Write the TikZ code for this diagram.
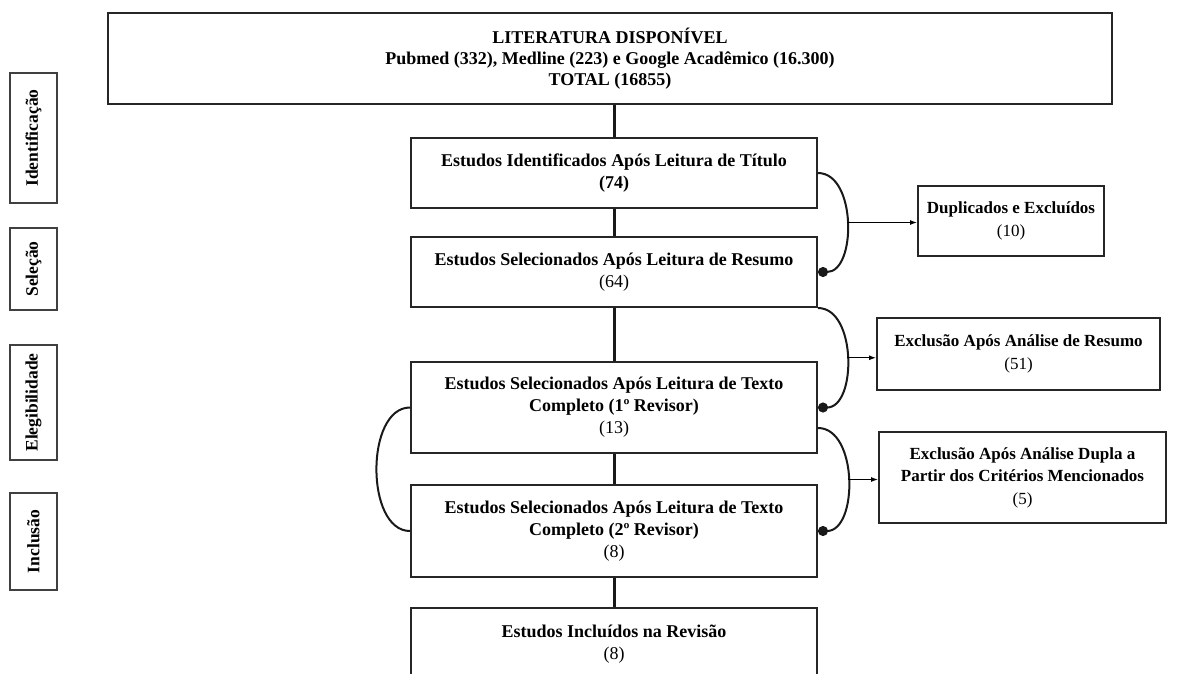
\documentclass[tikz,border=0pt]{standalone}
\usepackage{fontspec}
\setmainfont{Liberation Serif}
\usetikzlibrary{arrows.meta,calc}
\begin{document}
\begin{tikzpicture}[x=1pt,y=-1pt,
  box/.style={draw=black!85, line width=2pt, fill=white, inner sep=0pt, align=center,
    font=\bfseries\fontsize{18}{22}\selectfont},
  rbox/.style={box, font=\bfseries\fontsize{17}{22.5}\selectfont},
  sidebox/.style={draw=black!75, line width=1.3pt, inner sep=0pt, rotate=90,
    font=\bfseries\fontsize{17.5}{20}\selectfont},
  link/.style={line width=3pt, black!90},
  curve/.style={line width=2pt, black!90},
  dotend/.style={-{Circle[length=10pt,width=10pt]}},
  thinarrow/.style={line width=1pt, -{Latex[length=7pt,width=5pt]}}
]
\useasboundingbox (0,0) rectangle (1187,673);
\clip (0,0) rectangle (1187,673);

% side labels
\node[sidebox, minimum width=130pt, minimum height=47pt] (s1) at (33.5,138) {Identificação};
\node[sidebox, minimum width=82pt, minimum height=47pt] (s2) at (33.5,269) {Seleção};
\node[sidebox, minimum width=115pt, minimum height=47pt] (s3) at (33.5,402.5) {Elegibilidade};
\node[sidebox, minimum width=97pt, minimum height=47pt] (s4) at (33.5,541.5) {Inclusão};

% main column
\node[box, minimum width=1004pt, minimum height=91pt, font=\bfseries\fontsize{18}{21}\selectfont] (top) at (610,58.5)
  {LITERATURA DISPONÍVEL\\Pubmed (332), Medline (223) e Google Acadêmico (16.300)\\TOTAL (16855)};
\node[box, minimum width=406pt, minimum height=70pt] (b2) at (614,173)
  {Estudos Identificados Após Leitura de Título\\(74)};
\node[box, minimum width=406pt, minimum height=70pt] (b3) at (614,272)
  {Estudos Selecionados Após Leitura de Resumo\\\textmd{(64)}};
\node[box, minimum width=406pt, minimum height=91pt] (b4) at (614,407.5)
  {Estudos Selecionados Após Leitura de Texto\\Completo (1º Revisor)\\\textmd{(13)}};
\node[box, minimum width=406pt, minimum height=92pt] (b5) at (614,531)
  {Estudos Selecionados Após Leitura de Texto\\Completo (2º Revisor)\\\textmd{(8)}};
\node[box, minimum width=406pt, minimum height=72pt] (b6) at (614,644)
  {Estudos Incluídos na Revisão\\\textmd{(8)}};

% right column
\node[rbox, minimum width=186pt, minimum height=70pt] (dup) at (1011,221)
  {Duplicados e Excluídos\\\textmd{(10)}};
\node[rbox, minimum width=283pt, minimum height=72pt] (exr) at (1018.5,354)
  {Exclusão Após Análise de Resumo\\\textmd{(51)}};
\node[rbox, minimum width=287pt, minimum height=91pt] (exd) at (1022.5,477.5)
  {Exclusão Após Análise Dupla a\\Partir dos Critérios Mencionados\\\textmd{(5)}};

% vertical connectors
\draw[link] (b2.north |- top.south) -- (b2.north);
\draw[link] (b2.south) -- (b3.north);
\draw[link] (b3.south) -- (b4.north);
\draw[link] (b4.south) -- (b5.north);
\draw[link] (b5.south) -- (b6.north);

% curved connectors
\draw[curve, dotend] (b2.east) to[out=0,in=0] coordinate[pos=0.5] (m1) (b3.east);
\draw[curve, dotend] (b3.south east) to[out=0,in=0] coordinate[pos=0.5] (m2) (b4.east);
\coordinate (c3s) at ($(b4.east)+(0,20.5)$);
\draw[curve, dotend] (c3s) to[out=0,in=0] coordinate[pos=0.5] (m3) (b5.east);
\draw[curve] (b4.west) to[out=180,in=180,looseness=0.93] (b5.west);

% arrows to exclusion boxes
\draw[thinarrow] (m1) -- (m1 -| dup.west);
\draw[thinarrow] (m2) -- (m2 -| exr.west);
\draw[thinarrow] (m3) -- (m3 -| exd.west);
\end{tikzpicture}
\end{document}
